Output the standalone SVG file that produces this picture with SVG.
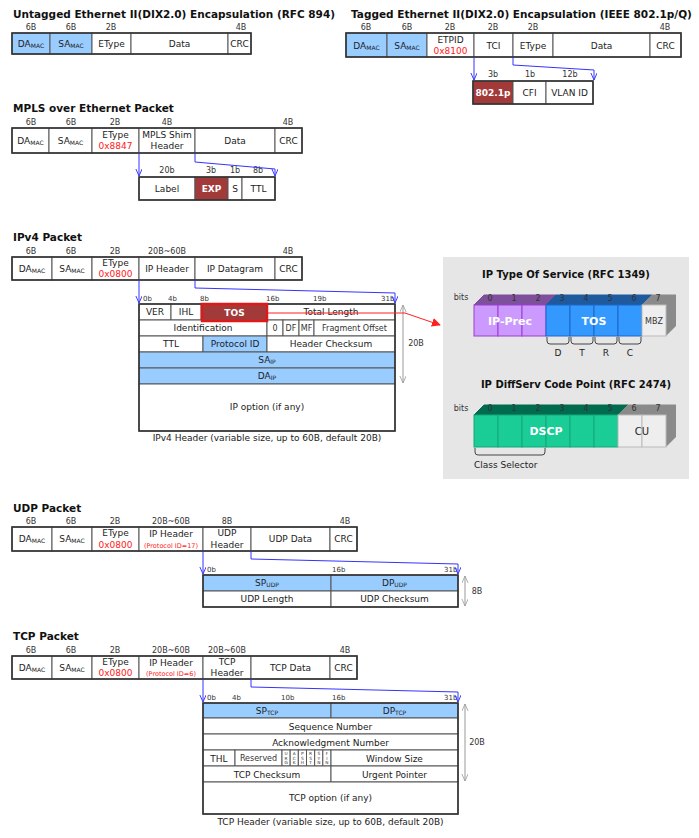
<svg xmlns="http://www.w3.org/2000/svg" width="699" height="838" viewBox="0 0 699 838">
<defs>
<style>
.c{fill:#fff;stroke:#555;stroke-width:1}
.b{fill:#99CCFF;stroke:#555;stroke-width:1}
.r{fill:#A33A3A;stroke:#555;stroke-width:1}
.o{fill:none;stroke:#333;stroke-width:1.6}
text{font-family:"DejaVu Sans",Verdana,sans-serif;font-size:9px;fill:#222;text-anchor:middle}
.h{font-weight:bold;font-size:10.5px;text-anchor:start;fill:#111}
.s{font-size:8px;fill:#333}
.bt{font-size:7px;fill:#333;text-anchor:start}
.red{fill:#FF2020}
.pr{font-size:6.5px;fill:#FF2020}
.w{fill:#fff;font-weight:bold}
.fl{font-size:4.3px;fill:#333}
.conn{stroke:#3333FF;fill:none;stroke-width:1}
.dim{stroke:#999;fill:none;stroke-width:1}
</style>
<marker id="av" viewBox="0 0 10 10" refX="9" refY="4" markerWidth="8" markerHeight="8" markerUnits="userSpaceOnUse" orient="auto"><path d="M0,0 L9,4 L0,8" fill="none" stroke="#3333FF" stroke-width="1.2"/></marker>
<marker id="ag" viewBox="0 0 10 10" refX="9" refY="4" markerWidth="8" markerHeight="8" markerUnits="userSpaceOnUse" orient="auto-start-reverse"><path d="M0,0 L9,4 L0,8" fill="none" stroke="#999" stroke-width="1"/></marker>
<marker id="ar" viewBox="0 0 10 10" refX="9" refY="5" markerWidth="9" markerHeight="9" markerUnits="userSpaceOnUse" orient="auto"><path d="M0,0 L10,5 L0,10 z" fill="#FF2020"/></marker>
</defs>
<rect width="699" height="838" fill="#fff"/>

<!-- Untagged -->
<g id="untagged">
<text class="h" x="13" y="18">Untagged Ethernet II(DIX2.0) Encapsulation (RFC 894)</text>
<text class="s" x="31" y="30">6B</text><text class="s" x="71" y="30">6B</text><text class="s" x="111" y="30">2B</text><text class="s" x="241" y="30">4B</text>
<rect class="b" x="12" y="33" width="38" height="21"/><rect class="b" x="50" y="33" width="42" height="21"/>
<rect class="c" x="92" y="33" width="39" height="21"/><rect class="c" x="131" y="33" width="97" height="21"/><rect class="c" x="228" y="33" width="23" height="21"/>
<rect class="o" x="12" y="33" width="239" height="21"/>
<text x="31" y="47">DA<tspan font-size="6" dy="1">MAC</tspan></text>
<text x="71" y="47">SA<tspan font-size="6" dy="1">MAC</tspan></text>
<text x="111.5" y="47">EType</text><text x="179.5" y="47">Data</text><text x="239.5" y="47">CRC</text>
</g>

<!-- Tagged -->
<g id="tagged">
<text class="h" x="351" y="18">Tagged Ethernet II(DIX2.0) Encapsulation (IEEE 802.1p/Q)</text>
<text class="s" x="366" y="30">6B</text><text class="s" x="407" y="30">6B</text><text class="s" x="450" y="30">2B</text><text class="s" x="493" y="30">2B</text><text class="s" x="533" y="30">2B</text><text class="s" x="665" y="30">4B</text>
<rect class="b" x="346" y="33" width="41" height="24"/><rect class="b" x="387" y="33" width="40" height="24"/>
<rect class="c" x="427" y="33" width="47" height="24"/><rect class="c" x="474" y="33" width="39" height="24"/><rect class="c" x="513" y="33" width="40" height="24"/><rect class="c" x="553" y="33" width="97" height="24"/><rect class="c" x="650" y="33" width="31" height="24"/>
<rect class="o" x="346" y="33" width="335" height="24"/>
<text x="366.5" y="48.5">DA<tspan font-size="6" dy="1">MAC</tspan></text>
<text x="407" y="48.5">SA<tspan font-size="6" dy="1">MAC</tspan></text>
<text x="450.5" y="43">ETPID</text><text class="red" x="450.5" y="54">0x8100</text>
<text x="493.5" y="48.5">TCI</text><text x="533" y="48.5">EType</text><text x="601.5" y="48.5">Data</text><text x="665.5" y="48.5">CRC</text>
</g>
<g id="tci">
<text class="s" x="493" y="77">3b</text><text class="s" x="530" y="77">1b</text><text class="s" x="570" y="77">12b</text>
<rect class="r" x="473" y="81" width="40" height="23"/><rect class="c" x="513" y="81" width="33" height="23"/><rect class="c" x="546" y="81" width="47" height="23"/>
<rect class="o" x="473" y="81" width="120" height="23"/>
<text class="w" x="493" y="96">802.1p</text><text x="529.5" y="96">CFI</text><text x="569.5" y="96">VLAN ID</text>
</g>

<!-- MPLS -->
<g id="mpls">
<text class="h" x="13" y="112">MPLS over Ethernet Packet</text>
<text class="s" x="31" y="125">6B</text><text class="s" x="71" y="125">6B</text><text class="s" x="115" y="125">2B</text><text class="s" x="167" y="125">4B</text><text class="s" x="288" y="125">4B</text>
<rect class="c" x="12" y="128" width="37" height="25"/><rect class="c" x="49" y="128" width="43" height="25"/><rect class="c" x="92" y="128" width="47" height="25"/><rect class="c" x="139" y="128" width="56" height="25"/><rect class="c" x="195" y="128" width="80" height="25"/><rect class="c" x="275" y="128" width="27" height="25"/>
<rect class="o" x="12" y="128" width="290" height="25"/>
<text x="30.5" y="144">DA<tspan font-size="6" dy="1">MAC</tspan></text>
<text x="70.5" y="144">SA<tspan font-size="6" dy="1">MAC</tspan></text>
<text x="115.5" y="137.5">EType</text><text class="red" x="115.5" y="149">0x8847</text>
<text x="167" y="137.5">MPLS Shim</text><text x="167" y="149">Header</text>
<text x="235" y="144">Data</text><text x="288.5" y="144">CRC</text>
</g>
<g id="mpls-shim">
<text class="s" x="167" y="173">20b</text><text class="s" x="211" y="173">3b</text><text class="s" x="235" y="173">1b</text><text class="s" x="258" y="173">8b</text>
<rect class="c" x="139" y="177" width="56" height="23"/><rect class="r" x="195" y="177" width="33" height="23"/><rect class="c" x="228" y="177" width="14" height="23"/><rect class="c" x="242" y="177" width="33" height="23"/>
<rect class="o" x="139" y="177" width="136" height="23"/>
<text x="167" y="192">Label</text><text class="w" x="211.5" y="192">EXP</text><text x="235" y="192">S</text><text x="258.5" y="192">TTL</text>
</g>

<!-- IPv4 -->
<g id="ipv4">
<text class="h" x="13" y="241">IPv4 Packet</text>
<text class="s" x="31" y="254">6B</text><text class="s" x="71" y="254">6B</text><text class="s" x="115" y="254">2B</text><text class="s" x="167" y="254">20B~60B</text><text class="s" x="288" y="254">4B</text>
<rect class="c" x="12" y="257" width="40" height="23"/><rect class="c" x="52" y="257" width="40" height="23"/><rect class="c" x="92" y="257" width="47" height="23"/><rect class="c" x="139" y="257" width="56" height="23"/><rect class="c" x="195" y="257" width="80" height="23"/><rect class="c" x="275" y="257" width="27" height="23"/>
<rect class="o" x="12" y="257" width="290" height="23"/>
<text x="32" y="272">DA<tspan font-size="6" dy="1">MAC</tspan></text>
<text x="72" y="272">SA<tspan font-size="6" dy="1">MAC</tspan></text>
<text x="115.5" y="266">EType</text><text class="red" x="115.5" y="277">0x0800</text>
<text x="167" y="272">IP Header</text><text x="235" y="272">IP Datagram</text><text x="288.5" y="272">CRC</text>
</g>
<g id="ipv4-header">
<text class="bt" x="143" y="301">0b</text><text class="bt" x="168" y="301">4b</text><text class="bt" x="200" y="301">8b</text><text class="bt" x="266" y="301">16b</text><text class="bt" x="313" y="301">19b</text><text class="bt" x="381" y="301">31b</text>
<rect class="c" x="139" y="304" width="32" height="16"/><rect class="c" x="171" y="304" width="30" height="16"/><rect class="c" x="267" y="304" width="128" height="16"/>
<rect class="c" x="139" y="320" width="128" height="16"/><rect class="c" x="267" y="320" width="16" height="16"/><rect class="c" x="283" y="320" width="16" height="16"/><rect class="c" x="299" y="320" width="15" height="16"/><rect class="c" x="314" y="320" width="81" height="16"/>
<rect class="c" x="139" y="336" width="64" height="16"/><rect class="b" x="203" y="336" width="64" height="16"/><rect class="c" x="267" y="336" width="128" height="16"/>
<rect class="b" x="139" y="352" width="256" height="16"/><rect class="b" x="139" y="368" width="256" height="16"/>
<rect class="c" x="139" y="384" width="256" height="47"/>
<rect class="o" x="139" y="304" width="256" height="127"/>
<rect x="202" y="304" width="65" height="17" fill="#A33A3A" stroke="#E01818" stroke-width="2.5"/>
<text x="155" y="315">VER</text><text x="186" y="315">IHL</text><text class="w" x="234.5" y="315.5">TOS</text><text x="331" y="315">Total Length</text>
<text x="203" y="331">Identification</text><text class="s" x="275" y="331">0</text><text class="s" x="291" y="331">DF</text><text class="s" x="306.5" y="331">MF</text><text class="s" x="354.5" y="331">Fragment Offset</text>
<text x="171" y="347">TTL</text><text x="235" y="347">Protocol ID</text><text x="331" y="347">Header Checksum</text>
<text x="267" y="363">SA<tspan font-size="6" dy="1">IP</tspan></text>
<text x="267" y="379">DA<tspan font-size="6" dy="1">IP</tspan></text>
<text x="267" y="410">IP option (if any)</text>
<text x="267" y="441">IPv4 Header (variable size, up to 60B, default 20B)</text>
<path class="dim" d="M403,305 V383" marker-start="url(#ag)" marker-end="url(#ag)"/>
<text class="s" x="416" y="346">20B</text>
</g>

<!-- TOS panel -->
<g id="qos-panel">
<rect x="443" y="257" width="246" height="222" fill="#E6E6E6"/>
<text class="h" x="566" y="278" style="text-anchor:middle;font-size:10px">IP Type Of Service (RFC 1349)</text>
<text class="s" x="461" y="300">bits</text>
<g id="tos-bits">
<polygon points="474,305 484,295 556,295 546,305" fill="#7E4F9A" stroke="#7E4F9A"/>
<polygon points="546,305 556,295 652,295 642,305" fill="#1F5A9E" stroke="#1F5A9E"/>
<polygon points="642,305 652,295 676,295 666,305" fill="#8A8A8A" stroke="#8A8A8A"/>
<polygon points="666,305 676,295 676,326 666,336" fill="#8A8A8A"/>
<rect x="474" y="305" width="24" height="31" fill="#CC99FF" stroke="#9B3FD0"/>
<rect x="498" y="305" width="24" height="31" fill="#CC99FF" stroke="#9B3FD0"/>
<rect x="522" y="305" width="24" height="31" fill="#CC99FF" stroke="#9B3FD0"/>
<rect x="546" y="305" width="24" height="31" fill="#3399FF" stroke="#1F66C8"/>
<rect x="570" y="305" width="24" height="31" fill="#3399FF" stroke="#1F66C8"/>
<rect x="594" y="305" width="24" height="31" fill="#3399FF" stroke="#1F66C8"/>
<rect x="618" y="305" width="24" height="31" fill="#3399FF" stroke="#1F66C8"/>
<rect x="642" y="305" width="24" height="31" fill="#EEEEEE" stroke="#BBBBBB"/>
<text class="s" x="490" y="301">0</text><text class="s" x="514" y="301">1</text><text class="s" x="538" y="301">2</text><text class="s" x="562" y="301">3</text><text class="s" x="586" y="301">4</text><text class="s" x="610" y="301">5</text><text class="s" x="634" y="301">6</text><text class="s" x="658" y="301">7</text>
<text class="w" x="510" y="325" style="font-size:11px">IP-Prec</text>
<text class="w" x="594" y="325" style="font-size:11px">TOS</text>
<text class="s" x="654" y="324">MBZ</text>
<path d="M547,337 v4 q0,3 3,3 h16 q3,0 3,-3 v-4 M571,337 v4 q0,3 3,3 h16 q3,0 3,-3 v-4 M595,337 v4 q0,3 3,3 h16 q3,0 3,-3 v-4 M619,337 v4 q0,3 3,3 h16 q3,0 3,-3 v-4" fill="none" stroke="#444"/>
<text x="558" y="356">D</text><text x="582" y="356">T</text><text x="606" y="356">R</text><text x="630" y="356">C</text>
</g>
<text class="h" x="576" y="388" style="text-anchor:middle;font-size:10px">IP DiffServ Code Point (RFC 2474)</text>
<text class="s" x="461" y="411">bits</text>
<g id="dscp-bits">
<polygon points="474,415 484,405 628,405 618,415" fill="#006B4F" stroke="#006B4F"/>
<polygon points="618,415 628,405 676,405 666,415" fill="#8A8A8A" stroke="#8A8A8A"/>
<polygon points="666,415 676,405 676,437 666,447" fill="#8A8A8A"/>
<rect x="474" y="415" width="24" height="32" fill="#1ACC96" stroke="#12A87A"/>
<rect x="498" y="415" width="24" height="32" fill="#1ACC96" stroke="#12A87A"/>
<rect x="522" y="415" width="24" height="32" fill="#1ACC96" stroke="#12A87A"/>
<rect x="546" y="415" width="24" height="32" fill="#1ACC96" stroke="#12A87A"/>
<rect x="570" y="415" width="24" height="32" fill="#1ACC96" stroke="#12A87A"/>
<rect x="594" y="415" width="24" height="32" fill="#1ACC96" stroke="#12A87A"/>
<rect x="618" y="415" width="24" height="32" fill="#EEEEEE" stroke="#BBBBBB"/>
<rect x="642" y="415" width="24" height="32" fill="#EEEEEE" stroke="#BBBBBB"/>
<text class="s" x="490" y="411">0</text><text class="s" x="514" y="411">1</text><text class="s" x="538" y="411">2</text><text class="s" x="562" y="411">3</text><text class="s" x="586" y="411">4</text><text class="s" x="610" y="411">5</text><text class="s" x="634" y="411">6</text><text class="s" x="658" y="411">7</text>
<text class="w" x="546" y="435" style="font-size:11px">DSCP</text>
<text x="642" y="435" style="font-size:10px">CU</text>
<path d="M475,448 v4 q0,3 3,3 h64 q3,0 3,-3 v-4" fill="none" stroke="#444"/>
<text x="474" y="468" style="text-anchor:start">Class Selector</text>
</g>
</g>

<!-- UDP -->
<g id="udp">
<text class="h" x="13" y="512">UDP Packet</text>
<text class="s" x="31" y="524">6B</text><text class="s" x="71" y="524">6B</text><text class="s" x="115" y="524">2B</text><text class="s" x="171" y="524">20B~60B</text><text class="s" x="227" y="524">8B</text><text class="s" x="345" y="524">4B</text>
<rect class="c" x="12" y="527" width="40" height="24"/><rect class="c" x="52" y="527" width="40" height="24"/><rect class="c" x="92" y="527" width="47" height="24"/><rect class="c" x="139" y="527" width="64" height="24"/><rect class="c" x="203" y="527" width="48" height="24"/><rect class="c" x="251" y="527" width="79" height="24"/><rect class="c" x="330" y="527" width="27" height="24"/>
<rect class="o" x="12" y="527" width="345" height="24"/>
<text x="32" y="542">DA<tspan font-size="6" dy="1">MAC</tspan></text>
<text x="72" y="542">SA<tspan font-size="6" dy="1">MAC</tspan></text>
<text x="115.5" y="536">EType</text><text class="red" x="115.5" y="547.5">0x0800</text>
<text x="171" y="537">IP Header</text><text class="pr" x="171" y="547.5">(Protocol ID=17)</text>
<text x="227" y="536">UDP</text><text x="227" y="547.5">Header</text>
<text x="290.5" y="542">UDP Data</text><text x="343.5" y="542">CRC</text>
</g>
<g id="udp-header">
<text class="bt" x="207" y="572">0b</text><text class="bt" x="332" y="572">16b</text><text class="bt" x="444" y="572">31b</text>
<rect class="b" x="203" y="575" width="128" height="16"/><rect class="b" x="331" y="575" width="127" height="16"/>
<rect class="c" x="203" y="591" width="128" height="16"/><rect class="c" x="331" y="591" width="127" height="16"/>
<rect class="o" x="203" y="575" width="255" height="32"/>
<text x="267" y="586">SP<tspan font-size="6" dy="1">UDP</tspan></text><text x="394.5" y="586">DP<tspan font-size="6" dy="1">UDP</tspan></text>
<text x="267" y="602">UDP Length</text><text x="394.5" y="602">UDP Checksum</text>
<path class="dim" d="M465,576 V606" marker-start="url(#ag)" marker-end="url(#ag)"/>
<text class="s" x="477" y="594">8B</text>
</g>

<!-- TCP -->
<g id="tcp">
<text class="h" x="13" y="640">TCP Packet</text>
<text class="s" x="31" y="653">6B</text><text class="s" x="71" y="653">6B</text><text class="s" x="115" y="653">2B</text><text class="s" x="171" y="653">20B~60B</text><text class="s" x="227" y="653">20B~60B</text><text class="s" x="345" y="653">4B</text>
<rect class="c" x="12" y="656" width="40" height="23"/><rect class="c" x="52" y="656" width="40" height="23"/><rect class="c" x="92" y="656" width="47" height="23"/><rect class="c" x="139" y="656" width="64" height="23"/><rect class="c" x="203" y="656" width="48" height="23"/><rect class="c" x="251" y="656" width="79" height="23"/><rect class="c" x="330" y="656" width="27" height="23"/>
<rect class="o" x="12" y="656" width="345" height="23"/>
<text x="32" y="670.5">DA<tspan font-size="6" dy="1">MAC</tspan></text>
<text x="72" y="670.5">SA<tspan font-size="6" dy="1">MAC</tspan></text>
<text x="115.5" y="665">EType</text><text class="red" x="115.5" y="676">0x0800</text>
<text x="171" y="665.5">IP Header</text><text class="pr" x="171" y="676">(Protocol ID=6)</text>
<text x="227" y="665">TCP</text><text x="227" y="676">Header</text>
<text x="290.5" y="670.5">TCP Data</text><text x="343.5" y="670.5">CRC</text>
</g>
<g id="tcp-header">
<text class="bt" x="207" y="700">0b</text><text class="bt" x="232" y="700">4b</text><text class="bt" x="281" y="700">10b</text><text class="bt" x="332" y="700">16b</text><text class="bt" x="444" y="700">31b</text>
<rect class="b" x="203" y="703" width="128" height="15"/><rect class="b" x="331" y="703" width="127" height="15"/>
<rect class="c" x="203" y="718" width="255" height="16"/><rect class="c" x="203" y="734" width="255" height="16"/>
<rect class="c" x="203" y="750" width="32" height="16"/><rect class="c" x="235" y="750" width="47" height="16"/>
<rect class="c" x="282" y="750" width="8.17" height="16"/><rect class="c" x="290.17" y="750" width="8.17" height="16"/><rect class="c" x="298.33" y="750" width="8.17" height="16"/><rect class="c" x="306.5" y="750" width="8.17" height="16"/><rect class="c" x="314.67" y="750" width="8.17" height="16"/><rect class="c" x="322.83" y="750" width="8.17" height="16"/>
<rect class="c" x="331" y="750" width="127" height="16"/>
<rect class="c" x="203" y="766" width="128" height="16"/><rect class="c" x="331" y="766" width="127" height="16"/>
<rect class="c" x="203" y="782" width="255" height="32"/>
<rect class="o" x="203" y="703" width="255" height="111"/>
<text x="267" y="714">SP<tspan font-size="6" dy="1">TCP</tspan></text><text x="394.5" y="714">DP<tspan font-size="6" dy="1">TCP</tspan></text>
<text x="330.5" y="729.5">Sequence Number</text>
<text x="330.5" y="745.5">Acknowledgment Number</text>
<text x="219" y="761.5">THL</text><text class="s" x="258.5" y="761">Reserved</text>
<text class="fl" x="286.1" y="755">U</text><text class="fl" x="286.1" y="759.5">R</text><text class="fl" x="286.1" y="764">G</text>
<text class="fl" x="294.25" y="755">A</text><text class="fl" x="294.25" y="759.5">C</text><text class="fl" x="294.25" y="764">K</text>
<text class="fl" x="302.4" y="755">P</text><text class="fl" x="302.4" y="759.5">S</text><text class="fl" x="302.4" y="764">H</text>
<text class="fl" x="310.6" y="755">R</text><text class="fl" x="310.6" y="759.5">S</text><text class="fl" x="310.6" y="764">T</text>
<text class="fl" x="318.75" y="755">S</text><text class="fl" x="318.75" y="759.5">Y</text><text class="fl" x="318.75" y="764">N</text>
<text class="fl" x="326.9" y="755">F</text><text class="fl" x="326.9" y="759.5">I</text><text class="fl" x="326.9" y="764">N</text>
<text x="394.5" y="761.5">Window Size</text>
<text x="267" y="777.5">TCP Checksum</text><text x="394.5" y="777.5">Urgent Pointer</text>
<text x="330.5" y="801">TCP option (if any)</text>
<text x="330.5" y="825">TCP Header (variable size, up to 60B, default 20B)</text>
<path class="dim" d="M465,704 V781" marker-start="url(#ag)" marker-end="url(#ag)"/>
<text class="s" x="477" y="745">20B</text>
</g>

<!-- Connectors -->
<g id="connectors">
<path class="conn" d="M474,57 V80" marker-end="url(#av)"/>
<path class="conn" d="M513,57 V65 L594,70 V80" marker-end="url(#av)"/>
<path class="conn" d="M139,153 V176" marker-end="url(#av)"/>
<path class="conn" d="M195,153 V162 L275,169 V176" marker-end="url(#av)"/>
<path class="conn" d="M139,280 V303" marker-end="url(#av)"/>
<path class="conn" d="M195,280 V288 L395,293 V303" marker-end="url(#av)"/>
<path class="conn" d="M203,551 V574" marker-end="url(#av)"/>
<path class="conn" d="M251,551 V559 L458,564 V574" marker-end="url(#av)"/>
<path class="conn" d="M203,679 V702" marker-end="url(#av)"/>
<path class="conn" d="M251,679 V687 L458,692 V702" marker-end="url(#av)"/>
<path d="M268,313 H405 L440,325" fill="none" stroke="#FF2020" stroke-width="1" marker-end="url(#ar)"/>
</g>
</svg>
